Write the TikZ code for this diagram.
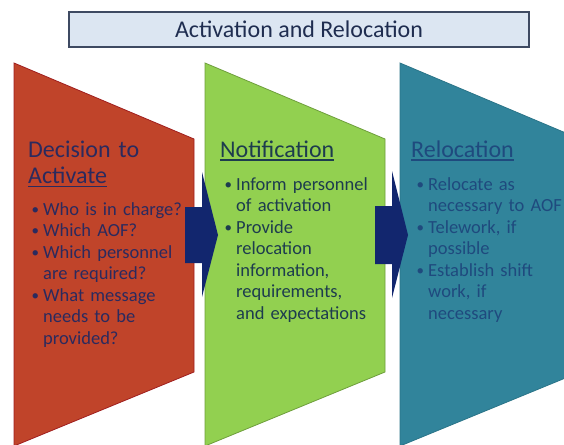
\documentclass[tikz,border=0pt]{standalone}
\usepackage{fontspec}
\setmainfont{Carlito}
\definecolor{titlefill}{HTML}{DCE6F2}
\definecolor{titleline}{HTML}{3E4A62}
\definecolor{titletext}{HTML}{1F2D50}
\definecolor{panelred}{HTML}{C0442A}
\definecolor{panelredline}{HTML}{A01E1E}
\definecolor{panelgreen}{HTML}{92D050}
\definecolor{panelgreenline}{HTML}{6E9E3C}
\definecolor{panelteal}{HTML}{31849B}
\definecolor{paneltealline}{HTML}{2A7488}
\definecolor{arrowblue}{HTML}{12266E}
\definecolor{redtext}{HTML}{2B2A5E}
\definecolor{greentext}{HTML}{1D3C4E}
\definecolor{tealtext}{HTML}{1F4A7E}
% first line of a bullet item, and its continuation lines
\newcommand\bl[1]{\noindent\makebox[13pt][l]{\hspace*{1.5pt}\raisebox{1pt}{\fontsize{15}{15}\selectfont\textbullet}}#1\par}
\newcommand\cl[1]{\noindent\hspace*{13pt}#1\par}
% heading underline
\newsavebox\headbox
\newcommand\headul[1]{\leavevmode\sbox\headbox{#1}\rlap{\rule[-3.6pt]{\wd\headbox}{1.3pt}}\usebox\headbox}
\begin{document}
\begin{tikzpicture}[x=1pt,y=-1pt,
  heading/.style={anchor=base west,inner sep=0pt,align=left,text width=170pt,
    font=\fontsize{24}{26.5}\selectfont},
  bullets/.style={anchor=base west,inner sep=0pt,align=left,text width=165pt,
    font=\fontsize{18.5}{21.5}\selectfont},
  panel/.style={line width=0.8pt},
  blockarrow/.style={fill=arrowblue}]
\useasboundingbox (0,0) rectangle (564,444);
\clip (0,0) rectangle (564,444);

% title banner
\node[draw=titleline,fill=titlefill,line width=1.2pt,minimum width=460pt,
  minimum height=35pt,inner sep=0pt,text=titletext,
  font=\fontsize{24}{27}\selectfont] (title) at (299,29.5) {Activation and Relocation};

% three process panels
\filldraw[panel,fill=panelred,draw=panelredline]
  (14,63) -- (194,139) -- (194,372) -- (14,446) -- cycle;
\filldraw[panel,fill=panelgreen,draw=panelgreenline]
  (205,63) -- (385,139) -- (385,372) -- (205,446) -- cycle;
\filldraw[panel,fill=panelteal,draw=paneltealline]
  (400,63) -- (580,139) -- (580,372) -- (400,446) -- cycle;

% block arrows between panels
\fill[blockarrow] (185,207) -- (202,207) -- (202,172) -- (218,235)
  -- (202,297) -- (202,263) -- (185,263) -- cycle;
\fill[blockarrow] (375,206) -- (392,206) -- (392,171) -- (408,235)
  -- (392,298) -- (392,264) -- (375,264) -- cycle;

% panel 1
\node[heading,text=redtext] (h1) at (28,157) {Decision to\\\headul{Activate}};
\node[bullets,text=redtext] (b1) at (30,215) {%
  \bl{Who is in charge?}
  \bl{Which AOF?}
  \bl{Which personnel}
  \cl{are required?}
  \bl{What message}
  \cl{needs to be}
  \cl{provided?}};

% panel 2
\node[heading,text=greentext] (h2) at (220,157) {\headul{Notification}};
\node[bullets,text=greentext] (b2) at (223,190) {%
  \bl{Inform personnel}
  \cl{of activation}
  \bl{Provide}
  \cl{relocation}
  \cl{information,}
  \cl{requirements,}
  \cl{and expectations}};

% panel 3
\node[heading,text=tealtext] (h3) at (411,157) {\headul{Relocation}};
\node[bullets,text=tealtext] (b3) at (415,190) {%
  \bl{Relocate as}
  \cl{necessary to AOF}
  \bl{Telework, if}
  \cl{possible}
  \bl{Establish shift}
  \cl{work, if}
  \cl{necessary}};
\end{tikzpicture}
\end{document}
